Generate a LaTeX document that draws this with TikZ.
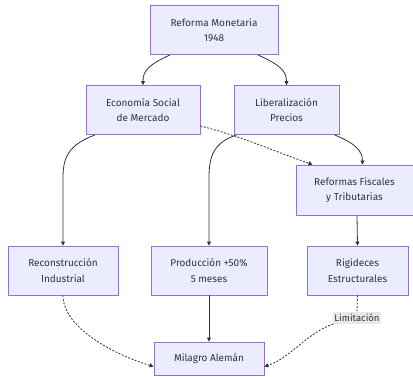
\documentclass[tikz,border=0pt]{standalone}
\usepackage{fontspec}
\setmainfont{Fira Sans}
\usetikzlibrary{arrows.meta}
\definecolor{boxfill}{HTML}{ECECFF}
\definecolor{boxline}{HTML}{9370DB}
\definecolor{ink}{HTML}{333333}
\definecolor{lblbg}{HTML}{E8E8E8}
\begin{document}
\begin{tikzpicture}[x=1pt,y=-1pt,
  box/.style={draw=boxline,fill=boxfill,line width=0.9pt,text=ink,
    font=\fontsize{10}{15.5}\selectfont,align=center,inner sep=0pt},
  link/.style={draw=ink,line width=0.8pt,-{Triangle[length=4pt,width=4pt]}},
  dotlink/.style={link,dash pattern=on 2pt off 1.5pt},
  lbl/.style={fill=lblbg,text=ink,font=\fontsize{9.5}{11}\selectfont,inner xsep=1pt,inner ysep=2pt}]
\useasboundingbox (0,0) rectangle (413,377);

\node[box,minimum width=128pt,minimum height=49pt] (ref) at (214,30) {Reforma Monetaria\\1948};
\node[box,minimum width=114pt,minimum height=49pt] (eco) at (143,110) {Economía Social\\de Mercado};
\node[box,minimum width=105pt,minimum height=49pt] (lib) at (286.5,110) {Liberalización\\Precios};
\node[box,minimum width=117pt,minimum height=50pt] (fis) at (354.5,190) {Reformas Fiscales\\y Tributarias};
\node[box,minimum width=110pt,minimum height=49pt] (rec) at (63,270.5) {Reconstrucción\\Industrial};
\node[box,minimum width=116pt,minimum height=49pt] (pro) at (209,270.5) {Producción +50\%\\5 meses};
\node[box,minimum width=101pt,minimum height=49pt] (rig) at (357.5,270.5) {Rigideces\\Estructurales};
\node[box,minimum width=110pt,minimum height=33pt] (mil) at (209,358.5) {Milagro Alemán};
\node[lbl] (lim) at (357,318) {Limitación};

% upper tier
\draw[link] ([xshift=-44pt]ref.south) .. controls +(-22,10) and +(0,-14) .. (eco.north);
\draw[link] ([xshift=44pt]ref.south) .. controls +(22,10) and +(0,-14) .. (lib.north);

% middle tier
\draw[dotlink] ([yshift=-16pt]eco.east) .. controls +(40,10) and +(-40,-14) .. ([xshift=-42pt]fis.north);
\draw[link] ([xshift=48pt]lib.south) .. controls +(20,8) and +(0,-14) .. ([xshift=8pt]fis.north);
\draw[link] ([xshift=-48pt]eco.south) .. controls +(-27,10) and +(0,-20) .. (63,178) -- (rec.north);
\draw[link] ([xshift=-50pt]lib.south) .. controls +(-24,8) and +(0,-20) .. (209,178) -- (pro.north);
\draw[link] ([xshift=2.5pt]fis.south) -- (rig.north);

% bottom tier
\draw[dotlink] (rec.south) .. controls +(0,32) and +(-40,-12) .. ([yshift=-8pt]mil.west);
\draw[link] (pro.south) -- (mil.north);
\draw[draw=ink,line width=0.8pt,dash pattern=on 2pt off 1.5pt] (rig.south) -- (lim.north);
\draw[dotlink] (lim.south west) .. controls +(-25,8) and +(25,-8) .. ([yshift=-8pt]mil.east);
\end{tikzpicture}
\end{document}
